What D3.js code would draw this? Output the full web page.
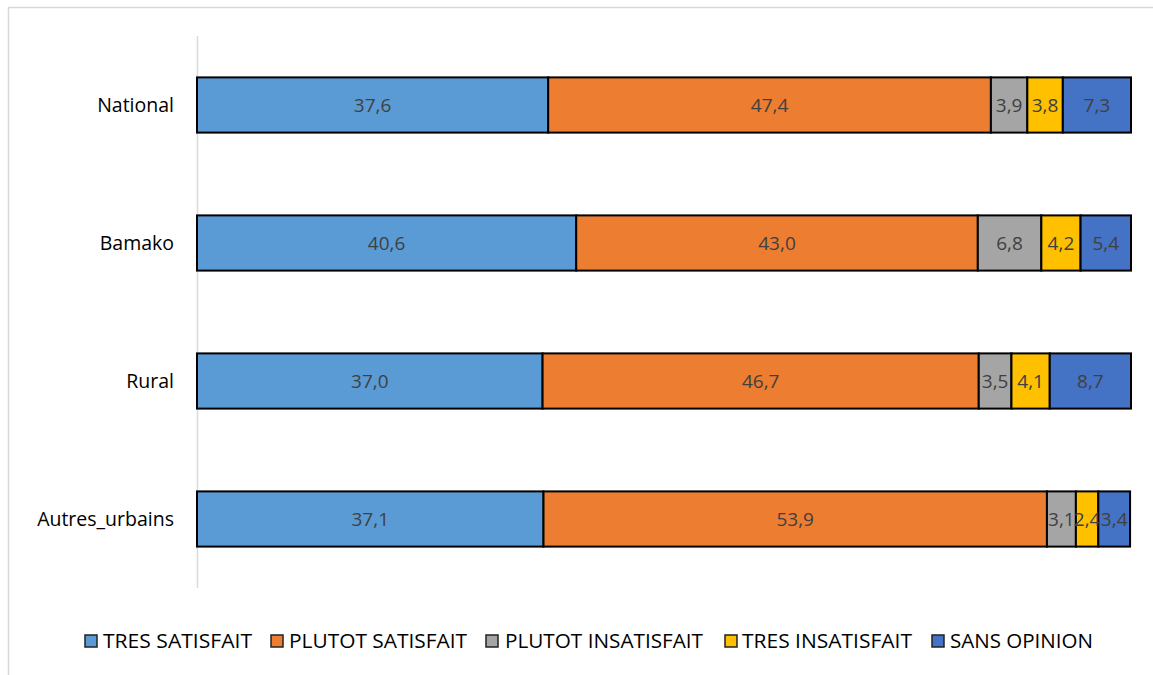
<!DOCTYPE html>
<html><head><meta charset="utf-8">
<script src="https://cdn.jsdelivr.net/npm/d3@7"></script>
<style>body{margin:0;background:#fff;}svg{display:block;font-family:"Open Sans","Noto Sans",sans-serif;}</style>
</head><body><svg id="c" width="1153" height="675"></svg>
<script>
const categories = ["National", "Bamako", "Rural", "Autres_urbains"];
const seriesNames = ["TRES SATISFAIT", "PLUTOT SATISFAIT", "PLUTOT INSATISFAIT", "TRES INSATISFAIT", "SANS OPINION"];
const tresSatisfait = [37.6, 40.6, 37.0, 37.1];
const plutotSatisfait = [47.4, 43.0, 46.7, 53.9];
const plutotInsatisfait = [3.9, 6.8, 3.5, 3.1];
const tresInsatisfait = [3.8, 4.2, 4.1, 2.4];
const sansOpinion = [7.3, 5.4, 8.7, 3.4];
const colors = ["#5B9BD5", "#ED7D31", "#A5A5A5", "#FFC000", "#4472C4"];

const seriesVals = [tresSatisfait, plutotSatisfait, plutotInsatisfait, tresInsatisfait, sansOpinion];
const svg = d3.select("#c");
const W = 1153, H = 675;
svg.append("rect").attr("x", 8.5).attr("y", 7.5).attr("width", W).attr("height", H)
  .attr("fill", "#fff").attr("stroke", "#d9d9d9").attr("stroke-width", 1.5);

const x = d3.scaleLinear().domain([0, 100]).range([197, 1131]);
const y = d3.scaleBand().domain(categories).range([36, 588]).paddingInner(0.6).paddingOuter(0.3);

const rows = categories.map((c, i) => {
  let acc = 0;
  return seriesVals.map((s, k) => { const d = {cat: c, k, v: s[i], x0: acc}; acc += s[i]; d.x1 = acc; return d; });
});

svg.append("line").attr("x1", 197.5).attr("x2", 197.5).attr("y1", 36).attr("y2", 588)
  .attr("stroke", "#d9d9d9").attr("stroke-width", 1.5);

const g = svg.append("g");
rows.flat().forEach(d => {
  g.append("rect").attr("x", x(d.x0)).attr("y", y(d.cat)).attr("width", x(d.x1) - x(d.x0))
    .attr("height", y.bandwidth()).attr("fill", colors[d.k]).attr("stroke", "#000").attr("stroke-width", 2);
});
rows.flat().forEach(d => {
  g.append("text").attr("x", (x(d.x0) + x(d.x1)) / 2).attr("y", y(d.cat) + y.bandwidth() / 2)
    .attr("text-anchor", "middle").attr("dy", "0.36em")
    .attr("font-size", 19).attr("fill", "#404040").text(d3.format(".1f")(d.v).replace(".", ","));
});

categories.forEach(c => {
  svg.append("text").attr("x", 174).attr("y", y(c) + y.bandwidth() / 2)
    .attr("text-anchor", "end").attr("dy", "0.36em")
    .attr("font-size", 19.5).attr("fill", "#000").text(c);
});

const swatchX = [85, 271, 486, 725, 932];
const textX = [103, 289, 505, 742, 950];
const legendW = [149, 178, 198, 170, 143];
seriesNames.forEach((n, k) => {
  svg.append("rect").attr("x", swatchX[k]).attr("y", 635).attr("width", 12).attr("height", 12)
    .attr("fill", colors[k]).attr("stroke", "#222").attr("stroke-width", 1.5);
  svg.append("text").attr("x", textX[k]).attr("y", 641).attr("dy", "0.36em")
    .attr("font-size", 19.5).attr("fill", "#000").attr("textLength", legendW[k])
    .attr("lengthAdjust", "spacingAndGlyphs").text(n);
});
</script></body></html>
